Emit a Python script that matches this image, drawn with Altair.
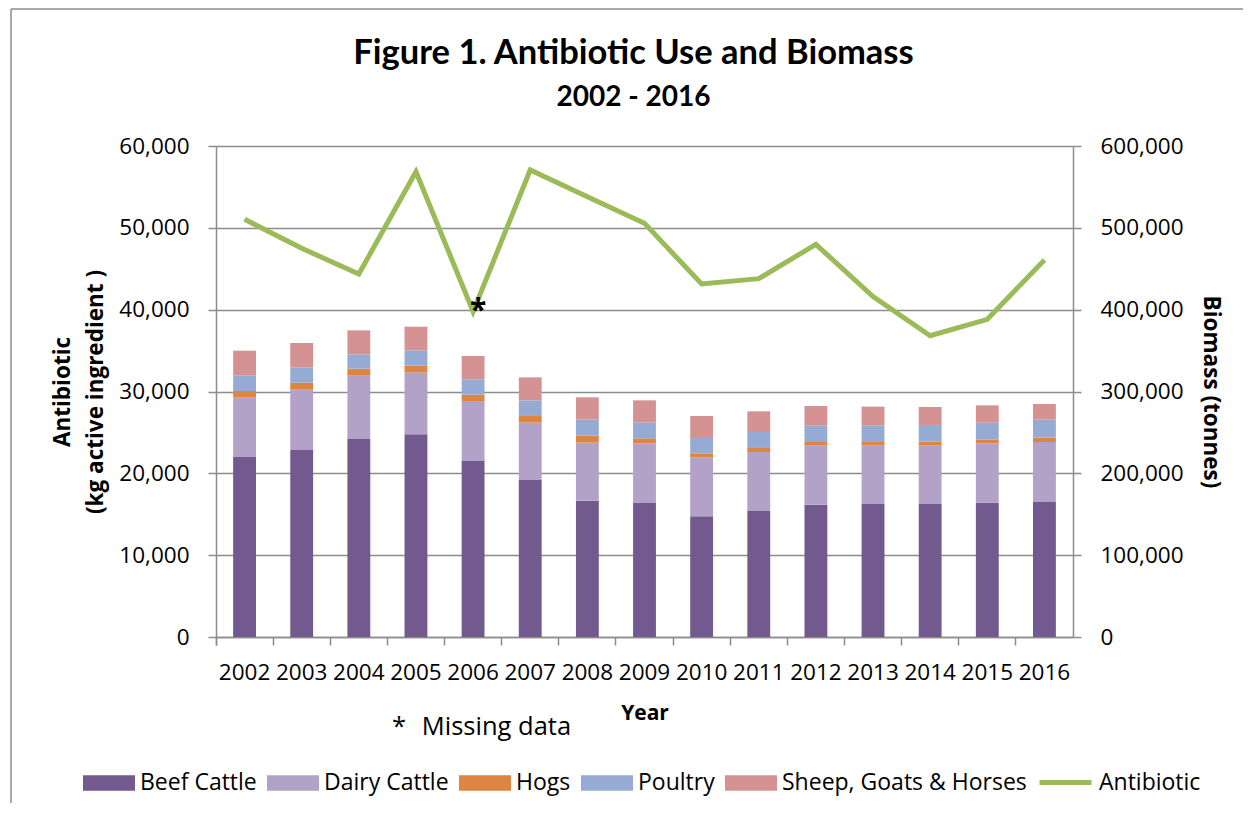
import altair as alt
import pandas as pd

years = [str(y) for y in range(2002, 2017)]
species = ["Beef Cattle", "Dairy Cattle", "Hogs", "Poultry", "Sheep, Goats & Horses"]
colors = ["#725a8f", "#b3a2c7", "#dd8542", "#95abd3", "#d49392"]

# Biomass (tonnes) by species
beef = [220000, 228500, 242000, 247700, 215100, 191900, 166600, 163700, 147500, 154000, 161700, 162500, 162500, 164200, 165000]
dairy = [72500, 73700, 77300, 75300, 73300, 70000, 70900, 72600, 72100, 72100, 72500, 71300, 71700, 72100, 73300]
hogs = [8100, 8600, 8600, 8600, 7700, 8200, 8500, 6500, 4800, 4900, 4100, 4500, 4500, 4800, 5300]
poultry = [18700, 18700, 17500, 18700, 18800, 19100, 19600, 19500, 20000, 19500, 20400, 20400, 20400, 20800, 22000]
sheep = [30600, 29800, 29300, 28900, 28500, 28100, 27300, 26900, 25700, 25300, 23600, 22800, 22000, 21200, 19100]

# Antibiotic use (kg active ingredient)
antibiotic = [51040, 47500, 44360, 56860, 39760, 57070, 53800, 50550, 43140, 43790, 47980, 41590, 36820, 38820, 46070]

rows = []
for i, yr in enumerate(years):
    for k, (name, vals) in enumerate(zip(species, [beef, dairy, hogs, poultry, sheep])):
        rows.append({"Year": yr, "Species": name, "Biomass": vals[i], "order": k})
bars_df = pd.DataFrame(rows)
line_df = pd.DataFrame({"Year": years, "Antibiotic": antibiotic, "Series": ["Antibiotic"] * len(years)})

W, H = 857, 491
GRAY = "#8c8c8c"
FONT = "Open Sans"

xenc = alt.X(
    "Year:N",
    scale=alt.Scale(paddingInner=0, paddingOuter=0),
    axis=alt.Axis(
        title="Year", labelAngle=0, bandPosition=0, tickExtra=True,
        labelPadding=16, titlePadding=19, labelOverlap=False, titleFontSize=21,
    ),
)

bars = alt.Chart(bars_df).mark_bar(width=alt.RelativeBandSize(0.4)).encode(
    x=xenc,
    y=alt.Y(
        "Biomass:Q", stack="zero",
        scale=alt.Scale(domain=[0, 600000], nice=False),
        axis=alt.Axis(
            orient="right", values=[0, 100000, 200000, 300000, 400000, 500000, 600000],
            format=",d", grid=False, title="Biomass (tonnes)", labelPadding=19, titlePadding=15,
            titleFontSize=22.5,
        ),
    ),
    color=alt.Color(
        "Species:N", scale=alt.Scale(domain=species, range=colors),
        legend=alt.Legend(
            title=None, orient="none", direction="horizontal", columns=5,
            legendX=-133, legendY=611,
            symbolType="M-1,-0.3L1,-0.3L1,0.3L-1,0.3Z", symbolSize=2704,
            symbolStrokeWidth=0, symbolOpacity=1, labelOffset=5, columnPadding=10,
            labelFont=FONT, labelFontSize=23, labelColor="black", padding=0,
            labelLimit=400,
        ),
    ),
    order=alt.Order("order:Q", sort="ascending"),
)

line = alt.Chart(line_df).mark_line(strokeWidth=5).encode(
    x=xenc,
    y=alt.Y(
        "Antibiotic:Q",
        scale=alt.Scale(domain=[0, 60000], nice=False),
        axis=alt.Axis(
            orient="left", values=[0, 10000, 20000, 30000, 40000, 50000, 60000],
            format=",d", grid=True, title=["Antibiotic", "(kg active ingredient )"],
            titleLineHeight=33, labelPadding=19, titlePadding=11, titleFontSize=22.5,
        ),
    ),
    stroke=alt.Stroke(
        "Series:N", scale=alt.Scale(domain=["Antibiotic"], range=["#9bbb59"]),
        legend=alt.Legend(
            title=None, orient="none", direction="horizontal",
            legendX=821, legendY=608, symbolType="stroke", symbolSize=2704,
            symbolStrokeWidth=5, labelOffset=5,
            labelFont=FONT, labelFontSize=23, labelColor="black", padding=0,
        ),
    ),
)

star = alt.Chart(line_df).transform_filter(alt.datum.Year == "2006").mark_text(
    text="*", font=FONT, fontSize=30, fontWeight="bold", color="black",
    baseline="middle", align="center", dx=5, dy=-1,
).encode(
    x=xenc,
    y=alt.Y("Antibiotic:Q", scale=alt.Scale(domain=[0, 60000], nice=False), axis=None),
)

note_df = pd.DataFrame({"note": ["*\u00a0\u00a0\u200aMissing data"]})
note = alt.Chart(note_df).mark_text(
    font=FONT, fontSize=25.5, color="black", align="left", baseline="middle",
).encode(x=alt.value(176), y=alt.value(581), text="note:N")

border_df = pd.DataFrame({"k": [0]})
border_left = alt.Chart(border_df).mark_rule(color=GRAY, strokeWidth=1.5).encode(
    x=alt.value(-205), y=alt.value(-137), y2=alt.value(700)
)
border_top = alt.Chart(border_df).mark_rule(color=GRAY, strokeWidth=1.5).encode(
    x=alt.value(-205), x2=alt.value(1100), y=alt.value(-137)
)

chart = alt.layer(
    border_left, border_top, bars, line, star, note
).resolve_scale(
    y="independent", color="independent"
).properties(
    width=W, height=H,
    background="white",
    title=alt.Title(
        "Figure 1. Antibiotic Use and Biomass", subtitle="2002 - 2016",
        font="Lato", fontSize=34.5, fontWeight="bold", color="black",
        subtitleFont="Lato", subtitleFontSize=28, subtitleFontWeight="bold",
        subtitleColor="black", subtitlePadding=13, anchor="middle", dx=-11, offset=-105,
    ),
    autosize=alt.AutoSizeParams(type="none"),
    padding={"left": 208, "top": 138, "right": 170, "bottom": 166},
).configure_view(
    stroke=None
).configure_axis(
    labelFont=FONT, labelFontSize=22.5, labelColor="black",
    titleFont=FONT, titleFontSize=21, titleFontWeight="bold", titleColor="black",
    domainColor=GRAY, tickColor=GRAY, gridColor=GRAY,
    domainWidth=1.5, tickWidth=1.5, gridWidth=1.5, tickSize=8,
)

chart.save("out.html", embed_options={"renderer": "svg", "actions": False})
